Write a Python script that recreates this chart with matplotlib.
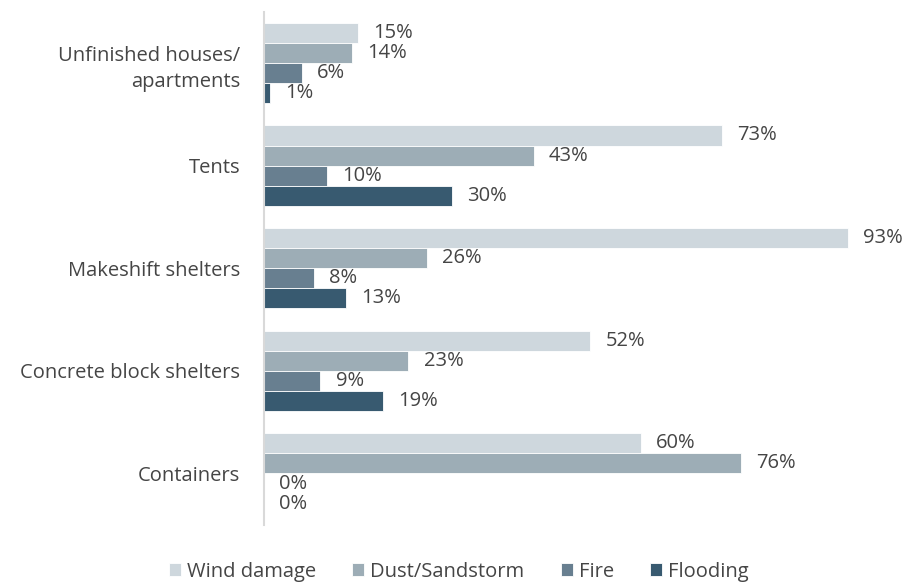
import matplotlib.pyplot as plt
import numpy as np

plt.rcParams['font.family'] = ['Open Sans', 'DejaVu Sans']

# Dados
categorias = ['Unfinished houses/\napartments', 'Tents', 'Makeshift shelters',
              'Concrete block shelters', 'Containers']
series = ['Wind damage', 'Dust/Sandstorm', 'Fire', 'Flooding']
wind = [15, 73, 93, 52, 60]
dust = [14, 43, 26, 23, 76]
fire = [6, 10, 8, 9, 0]
flooding = [1, 30, 13, 19, 0]
valores = [wind, dust, fire, flooding]
cores = ['#CED7DD', '#9DADB6', '#687F90', '#385A70']

fig = plt.figure(figsize=(9.07, 5.87), dpi=100)
ax = fig.add_axes([0.291, 0.106, 0.692, 0.874])

y = np.arange(len(categorias))
h = 0.196
for k, (nome, vals, cor) in enumerate(zip(series, valores, cores)):
    pos = y + (k - 1.5) * h
    ax.barh(pos, vals, height=h, color=cor, label=nome,
            edgecolor='white', linewidth=0.6)
    for p, v in zip(pos, vals):
        ax.annotate(f'{v}%', (v, p), xytext=(11, 0), textcoords='offset points',
                    va='center', ha='left', fontsize=14.5, color='#454545')

ax.set_xlim(0, 100)
ax.set_ylim(len(categorias) - 0.5, -0.5)
ax.set_yticks(y)
ax.set_yticklabels(categorias, fontsize=14.5, color='#454545', linespacing=1.45)
ax.tick_params(axis='y', length=0, pad=17)
ax.set_xticks([])
for s in ['top', 'right', 'bottom']:
    ax.spines[s].set_visible(False)
ax.spines['left'].set_color('#D9D9D9')
ax.spines['left'].set_linewidth(1.5)

leg = fig.legend(loc='lower center', bbox_to_anchor=(0.506, -0.022), ncol=4,
                 frameon=False, fontsize=14.5, handlelength=0.6, handleheight=0.6,
                 columnspacing=1.8, handletextpad=0.3)
for t in leg.get_texts():
    t.set_color('#454545')

plt.savefig('out.png', dpi=100)
